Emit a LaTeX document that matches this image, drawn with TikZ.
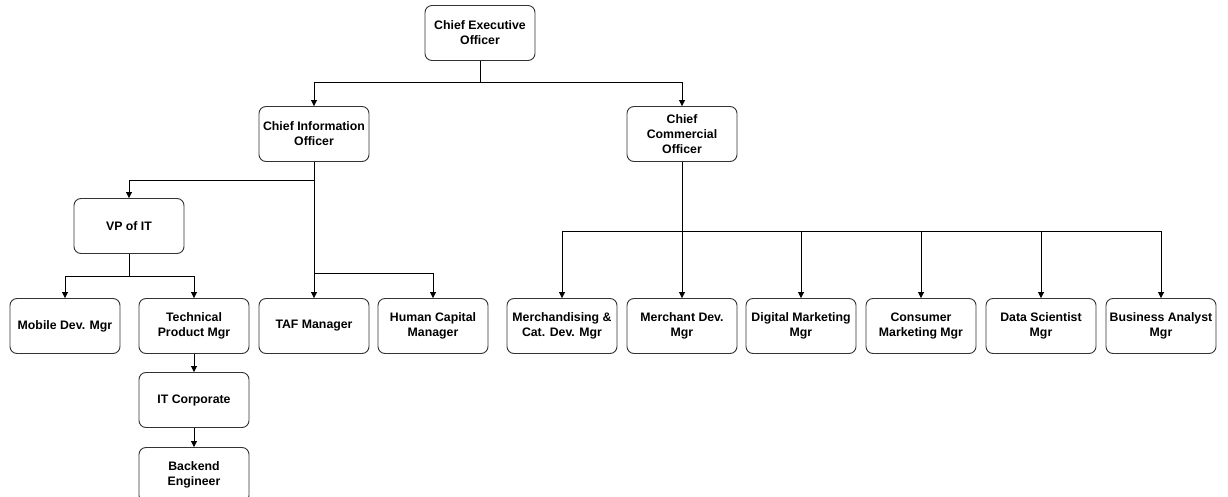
\documentclass[tikz,border=0pt]{standalone}
\usepackage{fontspec}
\setmainfont{Liberation Sans}
\usetikzlibrary{positioning,arrows.meta}

\begin{document}
\begin{tikzpicture}[
    x=1pt, y=-1pt,
    every node/.style={font=\bfseries\fontsize{12.3}{15}\selectfont, align=center},
    box/.style={rectangle, draw=black!80, line width=0.9pt, rounded corners=7pt, minimum width=110pt, minimum height=55pt, inner sep=1pt},
    link/.style={line width=0.9pt, black},
    arr/.style={link, -{Triangle[length=6pt, width=6pt]}}
]
\useasboundingbox (0,0) rectangle (1228,497);
\clip (0,0) rectangle (1228,497);
% top levels
\node[box] (ceo) at (480, 33)  {Chief Executive\\Officer};
\node[box] (cio) at (314, 134) {Chief Information\\Officer};
\node[box] (cco) at (682, 134) {Chief\\Commercial\\Officer};
% IT side
\node[box] (vp)  at (129, 226) {VP of IT};
\node[box] (mob) at (65, 326)  {Mobile Dev. Mgr};
\node[box] (tpm) at (194, 326) {Technical\\Product Mgr};
\node[box] (taf) at (314, 326) {TAF Manager};
\node[box] (hcm) at (433, 326) {Human Capital\\Manager};
\node[box] (itc) at (194, 400) {IT Corporate};
\node[box] (be)  at (194, 475) {Backend\\Engineer};
% commercial side
\node[box] (mcd) at (562, 326)  {Merchandising \&\\Cat. Dev. Mgr};
\node[box] (mdv) at (682, 326)  {Merchant Dev.\\Mgr};
\node[box] (dgm) at (801, 326)  {Digital Marketing\\Mgr};
\node[box] (csm) at (921, 326)  {Consumer\\Marketing Mgr};
\node[box] (dsm) at (1041, 326) {Data Scientist\\Mgr};
\node[box] (bam) at (1161, 326) {Business Analyst\\Mgr};

\draw[arr] (ceo.south) -- ++(0,22) -| (cio.north);
\draw[arr] (ceo.south) -- ++(0,22) -| (cco.north);

\draw[arr] (cio.south) -- (taf.north);
\draw[arr] (cio.south) -- ++(0,19) -| (vp.north);
\draw[arr] (cio.south) -- ++(0,111) -| (hcm.north);

\draw[arr] (vp.south) -- ++(0,22) -| (mob.north);
\draw[arr] (vp.south) -- ++(0,22) -| (tpm.north);
\draw[arr] (tpm) -- (itc);
\draw[arr] (itc) -- (be);

\foreach \mgr in {mcd, mdv, dgm, csm, dsm, bam}
    \draw[arr] (cco.south) -- ++(0,69) -| (\mgr.north);
\end{tikzpicture}
\end{document}
